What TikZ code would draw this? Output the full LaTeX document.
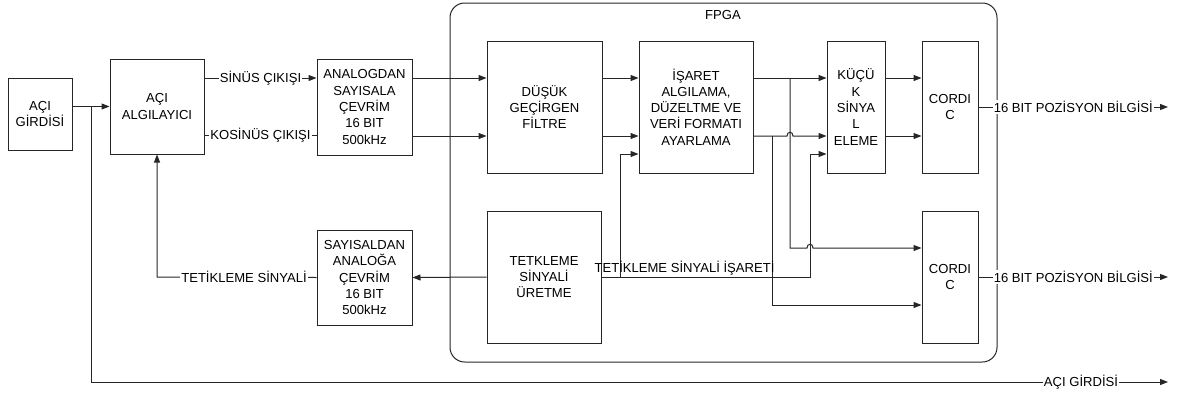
\documentclass[tikz,border=0pt]{standalone}
\usepackage{fontspec}
\setmainfont{Liberation Sans}
\usetikzlibrary{arrows.meta}
\begin{document}
\begin{tikzpicture}[x=0.75pt,y=-0.75pt,
  every node/.style={font=\fontsize{9.8}{12.2}\selectfont},
  blk/.style={draw=black!85, line width=0.75pt, align=center, inner sep=0pt},
  wire/.style={draw=black!85, line width=0.75pt},
  arr/.style={wire, -{Triangle[length=6pt,width=4.5pt]}},
  lbl/.style={fill=white, inner sep=0.8pt},
]
\useasboundingbox (0,0) rectangle (1181,396);
% FPGA frame
\node[wire, rounded corners=11pt, minimum width=410.25pt, minimum height=269.25pt, inner sep=0pt] (fpga) at (723.5,182.5) {};
\node (fpgalbl) at (723,15) {FPGA};
% blocks
\node[blk, minimum width=48pt, minimum height=54pt] (acigir) at (40,114) {AÇI\\GİRDİSİ};
\node[blk, minimum width=70.5pt, minimum height=71.25pt] (algi) at (157,106.5) {AÇI\\ALGILAYICI};
\node[blk, minimum width=71.25pt, minimum height=72pt] (adc) at (364.5,107) {ANALOGDAN\\SAYISALA\\ÇEVRİM\\16 BIT\\500kHz};
\node[blk, minimum width=86.25pt, minimum height=99pt] (filt) at (544.5,107) {DÜŞÜK\\GEÇİRGEN\\FİLTRE};
\node[blk, minimum width=85.5pt, minimum height=99pt] (isaret) at (696,107) {İŞARET\\ALGILAMA,\\DÜZELTME VE\\VERİ FORMATI\\AYARLAMA};
\node[blk, minimum width=43.5pt, minimum height=99pt] (kucuk) at (856,107) {KÜÇÜ\\K\\SİNYA\\L\\ELEME};
\node[blk, minimum width=42pt, minimum height=99pt] (cord1) at (950,107) {CORDI\\C};
\node[blk, minimum width=85.5pt, minimum height=99pt] (tet) at (544,277) {TETKLEME\\SİNYALİ\\ÜRETME};
\node[blk, minimum width=71.25pt, minimum height=71.25pt] (dac) at (364.5,277.5) {SAYISALDAN\\ANALOĞA\\ÇEVRİM\\16 BIT\\500kHz};
\node[blk, minimum width=42pt, minimum height=99pt] (cord2) at (950,277) {CORDI\\C};
% free ends
\coordinate (o1) at (1168,107);
\coordinate (o2) at (1168,277);
\coordinate (o3) at (1168,382);
% input
\draw[arr] (acigir.east |- algi.west) -- (algi.west);
\draw[wire, -{Triangle[length=6pt,width=4.5pt]}] (91,107) -- (91,382) -- (o3);
\node[lbl] (acilbl) at (1081,382) {AÇI GİRDİSİ};
% sensor outputs
\draw[arr] (algi.east |- 0,78) -- node[lbl]{SİNÜS ÇIKIŞI} (adc.west |- 0,78);
\draw[wire] (algi.east |- 0,135) -- node[lbl]{KOSİNÜS ÇIKIŞI} (adc.west |- 0,135);
% adc -> filter
\draw[arr] (adc.east |- 0,78) -- (filt.west |- 0,78);
\draw[arr] (adc.east |- 0,136) -- (filt.west |- 0,136);
% filter -> isaret
\draw[arr] (filt.east |- 0,78) -- (isaret.west |- 0,78);
\draw[arr] (filt.east |- 0,136) -- (isaret.west |- 0,136);
% isaret -> kucuk
\draw[arr] (isaret.east |- 0,78) -- (kucuk.west |- 0,78);
\draw[arr] (isaret.east |- 0,136) -- (787,136) .. controls (787,131) and (793,131) .. (793,136) -- (kucuk.west |- 0,136);
% branches to lower cordic
\draw[arr] (790,78) -- (790,248) -- (807,248) .. controls (807,243) and (813,243) .. (813,248) -- (cord2.west |- 0,248);
\draw[arr] (772,136) -- (772,305) -- (cord2.west |- 0,305);
% kucuk -> cordic
\draw[arr] (kucuk.east |- 0,78) -- (cord1.west |- 0,78);
\draw[arr] (kucuk.east |- 0,136) -- (cord1.west |- 0,136);
% trigger signal
\draw[arr] (tet.east) -- (810,277) -- (810,154) -- (kucuk.west |- 0,154);
\draw[arr] (620,277) -- (620,154) -- (isaret.west |- 0,154);
\node (tetlbl) at (684.5,268) {TETİKLEME SİNYALİ İŞARETİ};
\draw[arr] (tet.west) -- (dac.east);
\draw[arr] (dac.west) -- (157,277) -- (algi.south);
\node[lbl] (tetslbl) at (244,277) {TETİKLEME SİNYALİ};
% outputs
\draw[arr] (cord1.east) -- node[lbl]{16 BIT POZİSYON BİLGİSİ} (o1);
\draw[arr] (cord2.east) -- node[lbl]{16 BIT POZİSYON BİLGİSİ} (o2);
\end{tikzpicture}
\end{document}
